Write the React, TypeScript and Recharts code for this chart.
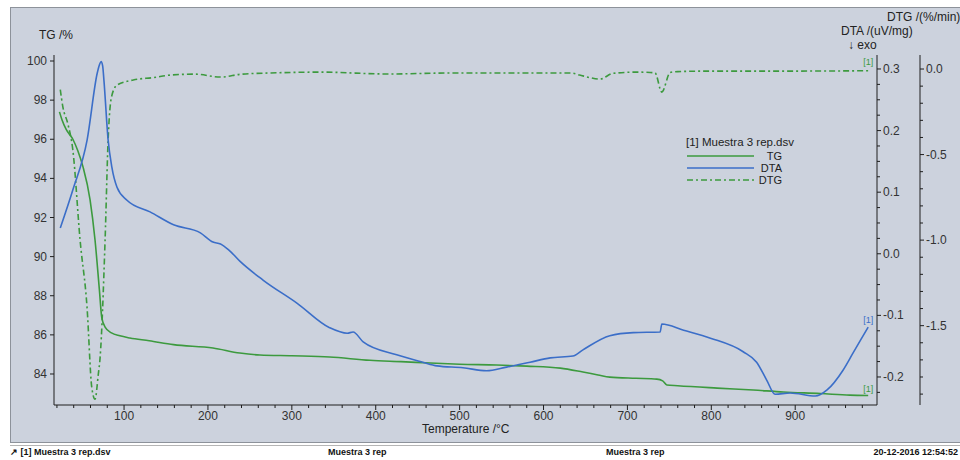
import React from 'react';
import { ComposedChart, Line, XAxis, YAxis, Legend, ReferenceDot } from 'recharts';

const FONT = "'Liberation Sans', Arial, sans-serif";
const GREEN = '#3c9a3e';
const BLUE = '#3b6ec8';
const AXIS = '#1e1e1e';
const PANEL = '#ccd2dd';

// TG /% (left axis)
const tgTemp = [23, 26, 31, 39, 45, 51, 59.5, 65.4, 70.6, 73.4, 77.4, 85, 95, 107, 130, 159, 206, 238, 262, 300, 345, 393, 430, 465, 500, 544, 580, 620, 647, 665, 679, 710, 735, 742, 747, 760, 807, 850, 886, 930, 965, 987];
const tgValues = [97.4, 97.0, 96.5, 96.0, 95.4, 94.6, 92.9, 90.85, 88.3, 86.9, 86.4, 86.1, 85.95, 85.84, 85.7, 85.5, 85.33, 85.07, 84.97, 84.93, 84.87, 84.7, 84.63, 84.56, 84.5, 84.46, 84.4, 84.3, 84.1, 83.95, 83.84, 83.78, 83.74, 83.65, 83.44, 83.4, 83.28, 83.18, 83.08, 83.0, 82.92, 82.9];

// DTA /(uV/mg) (first right axis)
const dtaTemp = [24, 39, 56, 68, 70.5, 72.6, 74.5, 76, 81, 85.4, 91.6, 103.5, 131, 159, 191, 206, 215, 225, 238, 266, 306, 345, 366, 373, 385, 425, 456, 473, 504, 532, 556, 584, 608, 635, 647, 679, 707, 739, 741, 767, 799, 838, 854, 866, 876, 894, 924, 938, 957, 969, 987];
const dtaValues = [0.042, 0.104, 0.185, 0.293, 0.306, 0.312, 0.305, 0.282, 0.185, 0.141, 0.108, 0.087, 0.068, 0.047, 0.034, 0.019, 0.016, 0.006, -0.012, -0.043, -0.08, -0.12, -0.129, -0.127, -0.143, -0.164, -0.176, -0.182, -0.185, -0.19, -0.184, -0.176, -0.169, -0.166, -0.156, -0.133, -0.128, -0.127, -0.114, -0.124, -0.137, -0.159, -0.176, -0.205, -0.228, -0.226, -0.231, -0.221, -0.189, -0.161, -0.119];

// DTG /(%/min) (second right axis)
const dtgTemp = [24, 27, 33, 39, 47.6, 55.9, 61.5, 65.4, 69.4, 71.4, 77.4, 81, 85, 91.6, 111, 135, 156, 185, 215, 240, 275, 335, 414, 493, 552, 632, 643, 655, 667, 683, 711, 727, 733, 741, 751, 760, 800, 900, 987];
const dtgValues = [-0.12, -0.22, -0.32, -0.475, -1.0, -1.394, -1.86, -1.93, -1.78, -1.69, -1.0, -0.416, -0.164, -0.094, -0.064, -0.05, -0.035, -0.03, -0.047, -0.03, -0.023, -0.018, -0.029, -0.023, -0.023, -0.023, -0.035, -0.05, -0.059, -0.025, -0.018, -0.02, -0.023, -0.135, -0.02, -0.015, -0.012, -0.012, -0.01];

// tick labels
const tempLabels = [100, 200, 300, 400, 500, 600, 700, 800, 900];
const tgLabels = [84, 86, 88, 90, 92, 94, 96, 98, 100];
const dtaLabels = [-0.2, -0.1, 0.0, 0.1, 0.2, 0.3];
const dtgLabels = [-1.5, -1.0, -0.5, 0.0];

const tempMinor = Array.from({ length: 49 }, (_, i) => 20 + i * 20);
const dtaMinor = Array.from({ length: 22 }, (_, i) => Math.round((-0.225 + i * 0.025) * 1000) / 1000);
const dtgMinor = Array.from({ length: 20 }, (_, i) => Math.round((-1.9 + i * 0.1) * 10) / 10);

const tgData = tgTemp.map((t, i) => ({ t, v: tgValues[i] }));
const dtaData = dtaTemp.map((t, i) => ({ t, v: dtaValues[i] }));
const dtgData = dtgTemp.map((t, i) => ({ t, v: dtgValues[i] }));

const isMajor = (list: number[], v: number) => list.some(l => Math.abs(l - v) < 1e-6);

const TempTick = ({ x, y, payload }: any) => {
  const major = isMajor(tempLabels, payload.value);
  return (
    <g>
      <line x1={x} y1={y} x2={x} y2={y + (major ? 5 : 3)} stroke={AXIS} />
      {major && (
        <text x={x} y={y + 15} textAnchor='middle' fontSize={12} fill='#333' fontFamily={FONT}>
          {payload.value}
        </text>
      )}
    </g>
  );
};

const TgTick = ({ x, y, payload }: any) => (
  <g>
    <line x1={x - 4} y1={y} x2={x} y2={y} stroke={AXIS} />
    <text x={x - 7} y={y + 4} textAnchor='end' fontSize={12} fill='#333' fontFamily={FONT}>
      {payload.value}
    </text>
  </g>
);

const rightTick = (labels: number[]) => ({ x, y, payload }: any) => {
  const major = isMajor(labels, payload.value);
  return (
    <g>
      <line x1={x} y1={y} x2={x + (major ? 4 : 3)} y2={y} stroke={AXIS} />
      {major && (
        <text x={x + 6} y={y + 4} textAnchor='start' fontSize={12} fill='#333' fontFamily={FONT}>
          {payload.value.toFixed(1)}
        </text>
      )}
    </g>
  );
};

const legendRows = [
  { name: 'TG', color: GREEN, dash: undefined },
  { name: 'DTA', color: BLUE, dash: undefined },
  { name: 'DTG', color: GREEN, dash: '6 3 2 3' },
];

const LegendBox = () => (
  <div style={{ fontFamily: FONT, fontSize: 11, color: '#222', lineHeight: '12px' }}>
    <div style={{ height: 14, fontSize: 11.5 }}>[1] Muestra 3 rep.dsv</div>
    {legendRows.map(r => (
      <div key={r.name} style={{ display: 'flex', height: 12, alignItems: 'center' }}>
        <svg width={70} height={12}>
          <line x1={1} y1={6} x2={68} y2={6} stroke={r.color} strokeWidth={1.5} strokeDasharray={r.dash} />
        </svg>
        <span style={{ width: 26, textAlign: 'right' }}>{r.name}</span>
      </div>
    ))}
  </div>
);

const txt = (left: number, top: number, s: string, extra: React.CSSProperties = {}) => (
  <div style={{ position: 'absolute', left, top, fontFamily: FONT, fontSize: 12, color: '#222', lineHeight: '13px', whiteSpace: 'nowrap', ...extra }}>
    {s}
  </div>
);

const footerText = (left: number, s: string, extra: React.CSSProperties = {}) => (
  <div style={{ position: 'absolute', left, top: 447, fontFamily: "'Liberation Sans Narrow', 'Liberation Sans', Arial, sans-serif", fontWeight: 'bold', fontSize: 9, color: '#111', lineHeight: '11px', whiteSpace: 'nowrap', ...extra }}>
    {s}
  </div>
);

export default function App() {
  const lastTg = tgData[tgData.length - 1];
  const lastDta = dtaData[dtaData.length - 1];
  const lastDtg = dtgData[dtgData.length - 1];
  return (
    <div style={{ position: 'absolute', left: 0, top: 0, width: 960, height: 460, background: '#fff', overflow: 'hidden' }}>
      <div style={{ position: 'absolute', left: 10, top: 7, width: 952, height: 436, background: PANEL, border: '1px solid #8d929a', boxSizing: 'border-box' }} />
      <div style={{ position: 'absolute', left: 10, top: 445, width: 950, height: 1, background: '#b5b5b5' }} />
      <div style={{ position: 'absolute', left: 0, top: 0 }}>
        <ComposedChart width={960} height={440} margin={{ top: 55, right: 0, bottom: 0, left: 0 }}>
          <XAxis
            dataKey='t'
            type='number'
            domain={[16.5, 997.5]}
            allowDataOverflow
            ticks={tempMinor}
            interval={0}
            tick={<TempTick />}
            tickLine={false}
            tickSize={0}
            tickMargin={0}
            height={35}
            axisLine={{ stroke: AXIS }}
          />
          <YAxis
            yAxisId='tg'
            orientation='left'
            type='number'
            domain={[82.415, 100.307]}
            allowDataOverflow
            ticks={tgLabels}
            interval={0}
            tick={<TgTick />}
            tickLine={false}
            tickSize={0}
            tickMargin={0}
            width={54}
            axisLine={{ stroke: AXIS }}
          />
          <YAxis
            yAxisId='dta'
            orientation='right'
            type='number'
            domain={[-0.2455, 0.3227]}
            allowDataOverflow
            ticks={dtaMinor}
            interval={0}
            tick={rightTick(dtaLabels)}
            tickLine={false}
            tickSize={0}
            tickMargin={0}
            width={43}
            axisLine={{ stroke: AXIS }}
          />
          <YAxis
            yAxisId='dtg'
            orientation='right'
            type='number'
            domain={[-1.9637, 0.082]}
            allowDataOverflow
            ticks={dtgMinor}
            interval={0}
            tick={rightTick(dtgLabels)}
            tickLine={false}
            tickSize={0}
            tickMargin={0}
            width={40}
            axisLine={{ stroke: AXIS }}
          />
          <Legend
            layout='horizontal'
            verticalAlign='middle'
            align='center'
            content={<LegendBox />}
            wrapperStyle={{ left: 686, top: 136, width: 120, height: 52 }}
          />
          <Line yAxisId='dtg' data={dtgData} dataKey='v' name='DTG' type='monotone' stroke={GREEN} strokeWidth={1.6} strokeDasharray='6 3 2 3' dot={false} activeDot={false} isAnimationActive={false} />
          <Line yAxisId='tg' data={tgData} dataKey='v' name='TG' type='monotone' stroke={GREEN} strokeWidth={1.6} dot={false} activeDot={false} isAnimationActive={false} />
          <Line yAxisId='dta' data={dtaData} dataKey='v' name='DTA' type='monotone' stroke={BLUE} strokeWidth={1.6} dot={false} activeDot={false} isAnimationActive={false} />
          <ReferenceDot yAxisId='tg' x={lastTg.t} y={lastTg.v} r={0} stroke='none' label={{ value: '[1]', position: 'top', offset: 4, fill: GREEN, fontSize: 9, fontFamily: FONT }} />
          <ReferenceDot yAxisId='dta' x={lastDta.t} y={lastDta.v} r={0} stroke='none' label={{ value: '[1]', position: 'top', offset: 4, fill: BLUE, fontSize: 9, fontFamily: FONT }} />
          <ReferenceDot yAxisId='dtg' x={lastDtg.t} y={lastDtg.v} r={0} stroke='none' label={{ value: '[1]', position: 'top', offset: 6, fill: GREEN, fontSize: 9, fontFamily: FONT }} />
        </ComposedChart>
      </div>
      {txt(39, 29, 'TG /%')}
      {txt(887, 11, 'DTG /(%/min)')}
      {txt(841, 25, 'DTA /(uV/mg)')}
      {txt(848, 39, '↓ exo')}
      {txt(422, 423, 'Temperature /°C')}
      {footerText(10, '↗ [1] Muestra 3 rep.dsv')}
      {footerText(328, 'Muestra 3 rep')}
      {footerText(606, 'Muestra 3 rep')}
      {footerText(0, '20-12-2016 12:54:52', { left: 'auto', right: 2 })}
    </div>
  );
}
